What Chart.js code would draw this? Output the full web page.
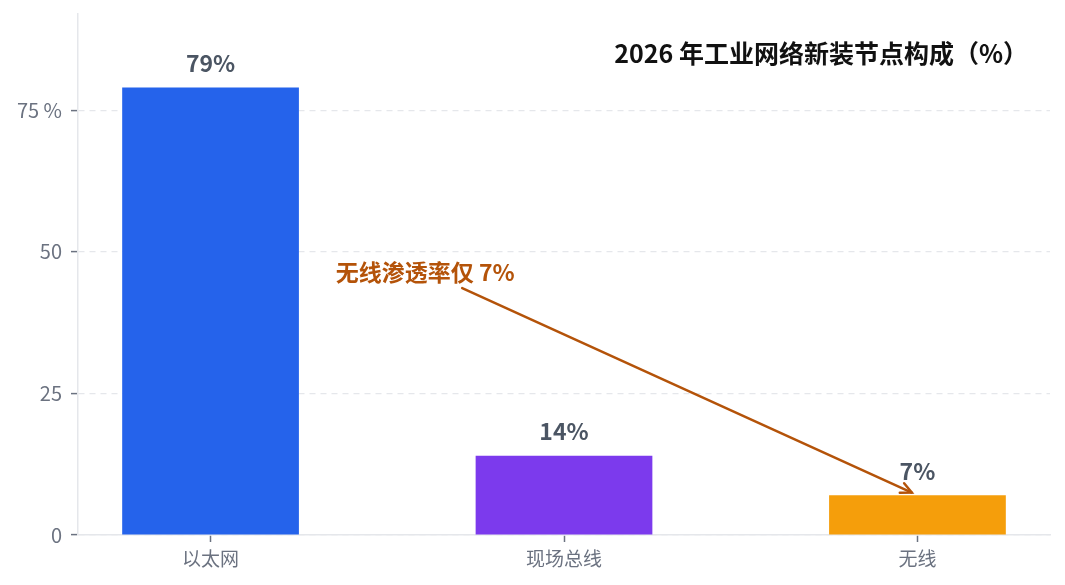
<!DOCTYPE html>
<html>
<head>
<meta charset="utf-8">
<script src="https://cdn.jsdelivr.net/npm/chart.js@4/dist/chart.umd.min.js"></script>
<style>
  html, body { margin: 0; padding: 0; background: #fff; }
  #wrap { width: 1065px; height: 585px; position: relative; }
</style>
</head>
<body>
<div id="wrap"><canvas id="barChart"></canvas></div>
<script>
// data
const categories = ['以太网', '现场总线', '无线'];
const shares = [79, 14, 7];
const barColors = ['#2563eb', '#7c3aed', '#f59e0b'];
const yTicks = [0, 25, 50, 75];

const chartTitle = '2026 年工业网络新装节点构成（%）';
const noteText = '无线渗透率仅 7%';
// note anchor and arrow ends, in data units (x index, y %)
const notePos = [0.354, 46.4];
const arrowFrom = [0.712, 43.6];
const arrowTo = [1.984, 7.5];

const FONT = '"Noto Sans CJK SC", "Noto Sans", sans-serif';

// value labels above bars
const valueLabels = {
  id: 'valueLabels',
  afterDatasetsDraw(chart) {
    const ctx = chart.ctx;
    const meta = chart.getDatasetMeta(0);
    ctx.save();
    ctx.font = 'bold 23px ' + FONT;
    ctx.fillStyle = '#4b5563';
    ctx.textAlign = 'center';
    ctx.textBaseline = 'bottom';
    meta.data.forEach((bar, i) => {
      ctx.fillText(shares[i] + '%', bar.x, bar.y - 13);
    });
    ctx.restore();
  }
};

// title + arrow note
const overlay = {
  id: 'overlay',
  afterDraw(chart) {
    const ctx = chart.ctx;
    const xs = chart.scales.x, ys = chart.scales.y;
    const area = chart.chartArea;
    ctx.save();

    ctx.font = 'bold 25px ' + FONT;
    ctx.fillStyle = '#111111';
    ctx.textAlign = 'right';
    ctx.textBaseline = 'middle';
    ctx.fillText(chartTitle, area.right - 22, area.top + 39);

    const x1 = xs.getPixelForValue(arrowFrom[0]), y1 = ys.getPixelForValue(arrowFrom[1]);
    const x2 = xs.getPixelForValue(arrowTo[0]), y2 = ys.getPixelForValue(arrowTo[1]);
    ctx.strokeStyle = '#b45309';
    ctx.lineWidth = 2.5;
    ctx.lineCap = 'round';
    ctx.beginPath();
    ctx.moveTo(x1, y1);
    ctx.lineTo(x2, y2);
    ctx.stroke();
    const ang = Math.atan2(y2 - y1, x2 - x1);
    const hl = 12;
    ctx.beginPath();
    ctx.moveTo(x2 - hl * Math.cos(ang - 0.45), y2 - hl * Math.sin(ang - 0.45));
    ctx.lineTo(x2, y2);
    ctx.lineTo(x2 - hl * Math.cos(ang + 0.45), y2 - hl * Math.sin(ang + 0.45));
    ctx.stroke();

    ctx.font = 'bold 23px ' + FONT;
    ctx.fillStyle = '#b45309';
    ctx.textAlign = 'left';
    ctx.textBaseline = 'middle';
    ctx.fillText(noteText, xs.getPixelForValue(notePos[0]), ys.getPixelForValue(notePos[1]));
    ctx.restore();
  }
};

const data = {
  datasets: [{
    data: shares.map((v, i) => ({ x: i, y: v })),
    backgroundColor: barColors,
    borderWidth: 0,
    barPercentage: 0.5,
    categoryPercentage: 1
  }]
};

const config = {
  type: 'bar',
  data,
  options: {
    responsive: true,
    maintainAspectRatio: false,
    animation: false,
    layout: { padding: { left: 0, right: 15, top: 14, bottom: 0 } },
    plugins: {
      legend: { display: false },
      tooltip: { enabled: false }
    },
    scales: {
      x: {
        type: 'linear',
        offset: false,
        min: -0.375,
        max: 2.375,
        afterBuildTicks: (scale) => { scale.ticks = categories.map((c, i) => ({ value: i })); },
        afterFit: (scale) => { scale.height = 50; scale.paddingLeft = 0; scale.paddingRight = 0; },
        ticks: {
          callback: (v) => categories[v],
          color: '#6b7280',
          font: { family: FONT, size: 19 },
          padding: 5,
          maxRotation: 0
        },
        grid: {
          offset: false,
          drawOnChartArea: false,
          tickLength: 7,
          tickColor: '#6b7280',
          tickWidth: 1.5
        },
        border: { color: '#e5e7eb', width: 1.5 }
      },
      y: {
        min: 0,
        max: 92,
        afterBuildTicks: (scale) => { scale.ticks = yTicks.map(v => ({ value: v })); },
        afterFit: (scale) => { scale.width = 78; scale.paddingTop = 0; scale.paddingBottom = 0; },
        ticks: {
          callback: (v) => v === 75 ? '75 %' : v,
          color: '#6b7280',
          font: { family: FONT, size: 20 },
          padding: 9
        },
        grid: {
          color: '#e5e7eb',
          lineWidth: 1.2,
          tickLength: 7,
          tickColor: '#6b7280',
          tickWidth: 1.5,
          tickBorderDash: []
        },
        border: { color: '#e5e7eb', width: 1.5, dash: [6, 5] }
      }
    }
  },
  plugins: [valueLabels, overlay]
};

const barChart = new Chart(document.getElementById('barChart'), config);
</script>
</body>
</html>
